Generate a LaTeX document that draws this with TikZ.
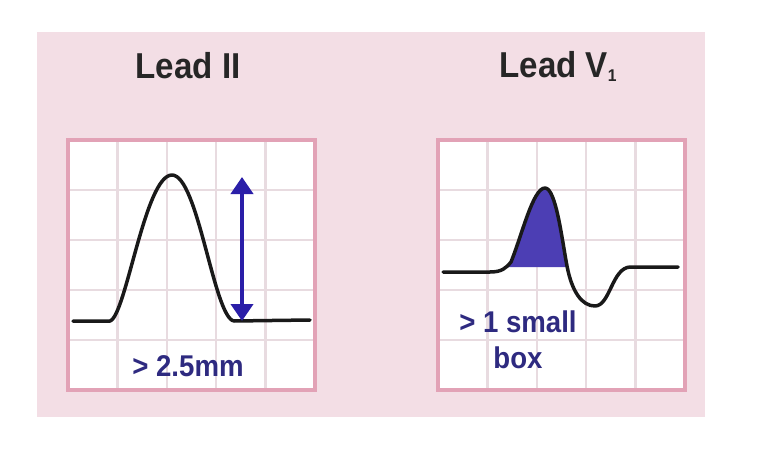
\documentclass[tikz,border=0pt]{standalone}
\usepackage{fontspec}
\setmainfont{Liberation Sans}
\newfontfamily\narrowsans[FakeStretch=0.92]{Liberation Sans}
\usetikzlibrary{arrows.meta}
\definecolor{panelpink}{RGB}{243,222,229}
\definecolor{gridpink}{RGB}{226,162,182}
\definecolor{gridgrey}{RGB}{232,219,224}
\definecolor{ecgblue}{RGB}{42,30,168}
\definecolor{fillblue}{RGB}{76,62,180}
\definecolor{textblue}{RGB}{46,42,128}

\begin{document}
\begin{tikzpicture}[x=1pt, y=-1pt, >={Triangle[width=22pt,length=17pt]},
    title/.style={font=\narrowsans\bfseries\fontsize{36}{40}\selectfont, text=black!85, inner sep=0pt},
    note/.style={font=\narrowsans\bfseries\fontsize{30}{36}\selectfont, text=textblue, align=center, inner sep=0pt},
    wave/.style={line width=3.5pt, line join=round, line cap=round, black!90}]
    \useasboundingbox (0,0) rectangle (780,460);

    % Nền hồng
    \fill[panelpink] (37,32) rectangle (705,417);

    % Tiêu đề
    \node[title] (titleII) at (188,66) {Lead II};
    \node[title] (titleV) at (558,66) {Lead V\raisebox{-4pt}{\fontsize{17}{17}\selectfont 1}};

    % Lưới ô vuông
    \foreach \gx in {68,438} {
        \fill[white] (\gx,140) rectangle ++(247,250);
        \foreach \i in {1,...,4} {
            \draw[gridgrey, line width=2.5pt] (\gx+\i*49.4,140) -- ++(0,250);
            \draw[gridgrey, line width=2.5pt] (\gx,140+\i*50) -- ++(247,0);
        }
        \draw[gridpink, line width=3.5pt] (\gx,140) rectangle ++(247,250);
    }

    % Sóng P ở Lead II
    \draw[wave] (73,321) -- (110,321)
        .. controls (126,316) and (145,175) .. (172,175)
        .. controls (198,175) and (214,318) .. (234,321) -- (310,320);
    \coordinate (apexII) at (242,177);
    \coordinate (footII) at (242,321);
    \draw[<->, ecgblue, line width=4pt] (footII) -- (apexII);
    \node[note] (labelII) at (188,366) {> 2.5mm};

    % Sóng P ở Lead V1
    \fill[fillblue] (507,267) -- (511,262)
        .. controls (522,235) and (533,188) .. (545,188)
        .. controls (556,188) and (562,240) .. (567,267) -- cycle;
    \draw[wave] (443,272) -- (490,272)
        .. controls (502,272) and (506,268) .. (511,262)
        .. controls (522,235) and (533,188) .. (545,188)
        .. controls (556,188) and (562,240) .. (567,266)
        .. controls (572,292) and (582,306) .. (595,306)
        .. controls (610,306) and (612,268) .. (630,267) -- (678,267);
    \node[note] (labelV) at (518,340) {> 1 small\\box};
\end{tikzpicture}
\end{document}
